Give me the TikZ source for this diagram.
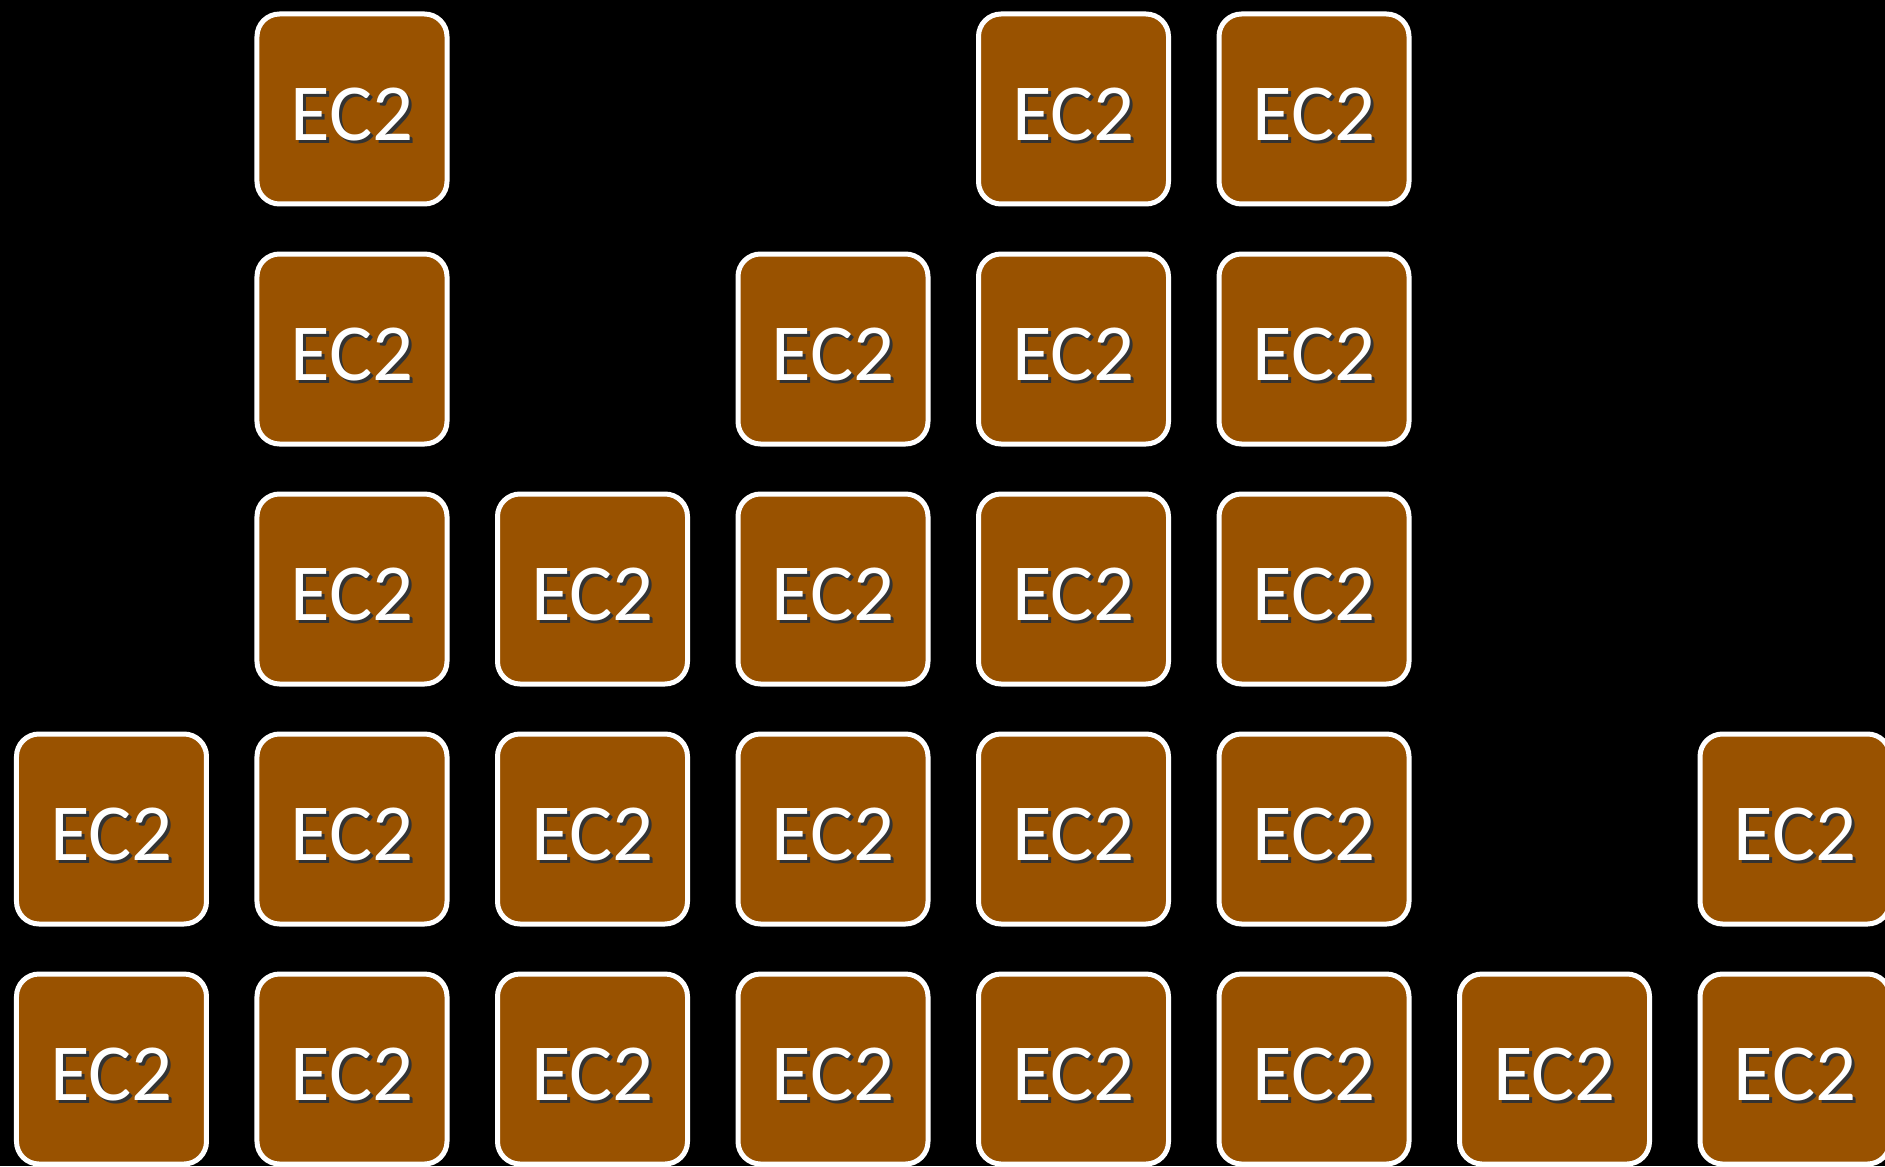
\documentclass[tikz,border=0pt]{standalone}
\usepackage{fontspec}
\setmainfont{Carlito}
\definecolor{ec2brown}{RGB}{153,82,0}
\newcommand{\shadowed}[1]{\makebox[0pt][l]{\hspace{1.2pt}\raisebox{-1.4pt}{\textcolor{black!80}{#1}}}#1}
\tikzset{
  ec2/.style={draw=white, line width=2pt, fill=ec2brown, rounded corners=9pt,
    minimum width=76pt, minimum height=76pt, inner sep=0pt, text=white,
    text height=25pt, text depth=0pt,
    font=\fontsize{32.4}{38}\selectfont}
}
\begin{document}
\begin{tikzpicture}[x=96.2pt, y=-96pt]
\fill[black] (-0.4636,-0.4542) rectangle (7.3742,4.4042);
\useasboundingbox (-0.4636,-0.4542) rectangle (7.3742,4.4042);
% row 0
\node [ec2] (v1) at (1,0) {\shadowed{EC2}};
\node [ec2] (v2) at (4,0) {\shadowed{EC2}};
\node [ec2] (v3) at (5,0) {\shadowed{EC2}};
% row 1
\node [ec2] (v4) at (1,1) {\shadowed{EC2}};
\node [ec2] (v5) at (3,1) {\shadowed{EC2}};
\node [ec2] (v6) at (4,1) {\shadowed{EC2}};
\node [ec2] (v7) at (5,1) {\shadowed{EC2}};
% row 2
\node [ec2] (v8) at (1,2) {\shadowed{EC2}};
\node [ec2] (v9) at (2,2) {\shadowed{EC2}};
\node [ec2] (v10) at (3,2) {\shadowed{EC2}};
\node [ec2] (v11) at (4,2) {\shadowed{EC2}};
\node [ec2] (v12) at (5,2) {\shadowed{EC2}};
% row 3
\node [ec2] (v13) at (0,3) {\shadowed{EC2}};
\node [ec2] (v14) at (1,3) {\shadowed{EC2}};
\node [ec2] (v15) at (2,3) {\shadowed{EC2}};
\node [ec2] (v16) at (3,3) {\shadowed{EC2}};
\node [ec2] (v17) at (4,3) {\shadowed{EC2}};
\node [ec2] (v18) at (5,3) {\shadowed{EC2}};
\node [ec2] (v19) at (7,3) {\shadowed{EC2}};
% row 4
\node [ec2] (v20) at (0,4) {\shadowed{EC2}};
\node [ec2] (v21) at (1,4) {\shadowed{EC2}};
\node [ec2] (v22) at (2,4) {\shadowed{EC2}};
\node [ec2] (v23) at (3,4) {\shadowed{EC2}};
\node [ec2] (v24) at (4,4) {\shadowed{EC2}};
\node [ec2] (v25) at (5,4) {\shadowed{EC2}};
\node [ec2] (v26) at (6,4) {\shadowed{EC2}};
\node [ec2] (v27) at (7,4) {\shadowed{EC2}};
\end{tikzpicture}
\end{document}
